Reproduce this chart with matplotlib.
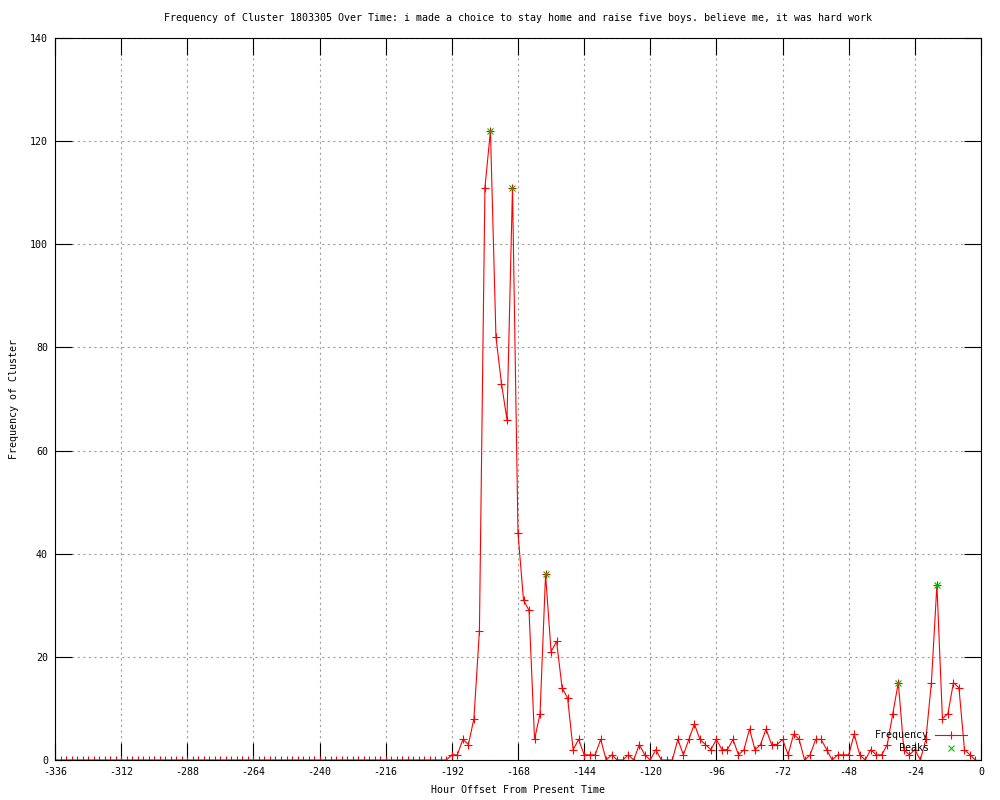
import matplotlib
matplotlib.use("Agg")

import matplotlib.pyplot as plt

plt.rcParams['font.family'] = ['DejaVu Sans Mono']
plt.rcParams['axes.unicode_minus'] = False

# hours -336 .. -198 are all zero, readings start at -196
hours = list(range(-336, 0, 2))
tail = [0, 0, 1, 1, 4, 3, 8, 25, 111, 122, 82, 73, 66, 111, 44, 31, 29, 4, 9, 36,
        21, 23, 14, 12, 2, 4, 1, 1, 1, 4, 0, 1, 0, 0, 1, 0, 3, 1, 0, 2,
        0, 0, 0, 4, 1, 4, 7, 4, 3, 2, 4, 2, 2, 4, 1, 2, 6, 2, 3, 6,
        3, 3, 4, 1, 5, 4, 0, 1, 4, 4, 2, 0, 1, 1, 1, 5, 1, 0, 2, 1,
        1, 3, 9, 15, 2, 1, 2, 0, 4, 15, 34, 8, 9, 15, 14, 2, 1, 0]
freq = [0] * (len(hours) - len(tail)) + tail

peak_hours = [-178, -170, -158, -30, -16]
peak_vals = [122, 111, 36, 15, 34]

xticks = list(range(-336, 1, 24))
yticks = list(range(0, 141, 20))

fig = plt.figure(figsize=(10, 8), dpi=100)
ax = fig.add_axes([0.055, 0.05, 0.926, 0.9025])

ax.plot(hours, freq, color='red', lw=0.8, marker='+', ms=5.5, mew=0.8, label='Frequency')
ax.plot(peak_hours, peak_vals, ls='none', color='#00c000', marker='x', ms=5, mew=0.8,
        label='Peaks')

ax.set_xlim(-336, 0)
ax.set_ylim(0, 140)
ax.set_xticks(xticks)
ax.set_yticks(yticks)
ax.tick_params(direction='in', length=12, width=0.8, labelsize=7.2,
               top=True, right=True, pad=5)
ax.grid(True, color='#a0a0a0', ls=(0, (2, 3)), lw=0.8)
for s in ax.spines.values():
    s.set_linewidth(0.8)

ax.set_title('Frequency of Cluster 1803305 Over Time: i made a choice to stay home and '
             'raise five boys. believe me, it was hard work', fontsize=7.2, pad=12)
ax.set_xlabel('Hour Offset From Present Time', fontsize=7.2, labelpad=6)
ax.set_ylabel('Frequency of Cluster', fontsize=7.2, labelpad=8)

ax.legend(loc='lower right', bbox_to_anchor=(0.995, -0.003), frameon=False,
          markerfirst=False, fontsize=7.2, handlelength=3.2, labelspacing=0.3,
          handletextpad=0.6)

fig.savefig('out.png', dpi=100)
